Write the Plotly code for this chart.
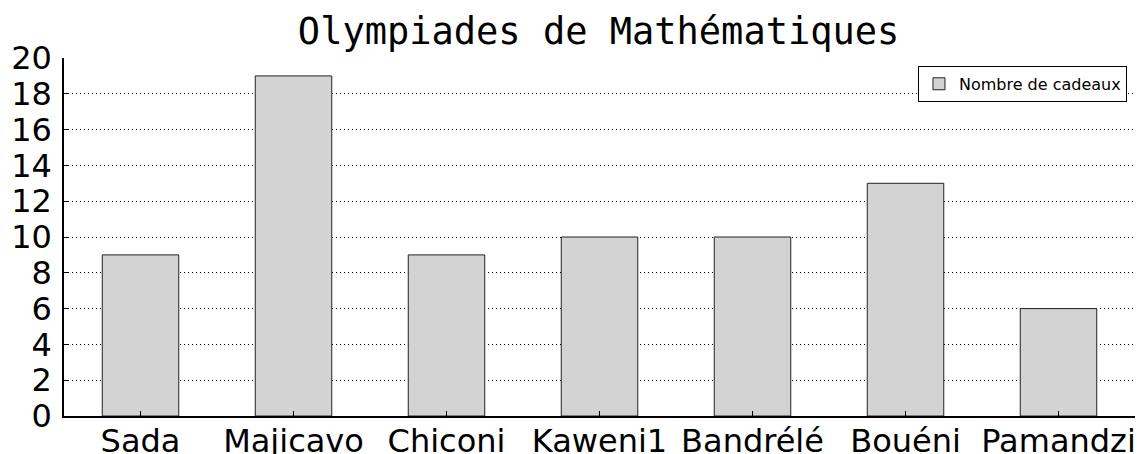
import plotly.graph_objects as go

categories = ["Sada", "Majicavo", "Chiconi", "Kaweni1", "Bandrélé", "Bouéni", "Pamandzi"]
values = [9, 19, 9, 10, 10, 13, 6]
series_name = "Nombre de cadeaux"
title_text = "Olympiades de Mathématiques"

fig = go.Figure()
fig.add_trace(go.Bar(
    x=categories, y=values, name=series_name, width=0.5,
    marker=dict(color="#d3d3d3", line=dict(color="#222222", width=1)),
    showlegend=True,
))

fig.update_layout(
    width=1138, height=454,
    margin=dict(l=64, r=3, t=58, b=38, autoexpand=False),
    paper_bgcolor="white", plot_bgcolor="white",
    title=dict(text=title_text, x=0.526, xanchor="center", y=0.931, yanchor="middle",
               font=dict(family="DejaVu Sans Mono", size=37, color="black")),
    font=dict(family="DejaVu Sans", color="black"),
    showlegend=True,
    legend=dict(x=0.9925, y=0.978, xanchor="right", yanchor="top",
                bgcolor="white", bordercolor="black", borderwidth=1,
                font=dict(family="DejaVu Sans", size=16, color="black"),
                itemwidth=30, tracegroupgap=0),
    xaxis=dict(range=[-0.5, 6.5], showline=True, linecolor="black", linewidth=1.5,
               ticks="inside", ticklen=5, tickcolor="black", showgrid=False,
               tickfont=dict(family="DejaVu Sans", size=32, color="black"),
               ticklabelstandoff=-4,
               automargin=False, mirror=False, zeroline=False),
    yaxis=dict(range=[0, 20], dtick=2, showline=True, linecolor="black", linewidth=1.5,
               ticks="inside", ticklen=5, tickcolor="black",
               showgrid=True, gridcolor="black", griddash="1px,3px", gridwidth=1,
               tickfont=dict(family="DejaVu Sans", size=32, color="black"),
               ticklabelstandoff=4, automargin=False, zeroline=False),
    bargap=0.5,
)

fig.write_html(
    "out.html",
    config={"displayModeBar": False},
    post_script="document.body.style.margin='0';document.body.style.overflow='hidden';",
)
